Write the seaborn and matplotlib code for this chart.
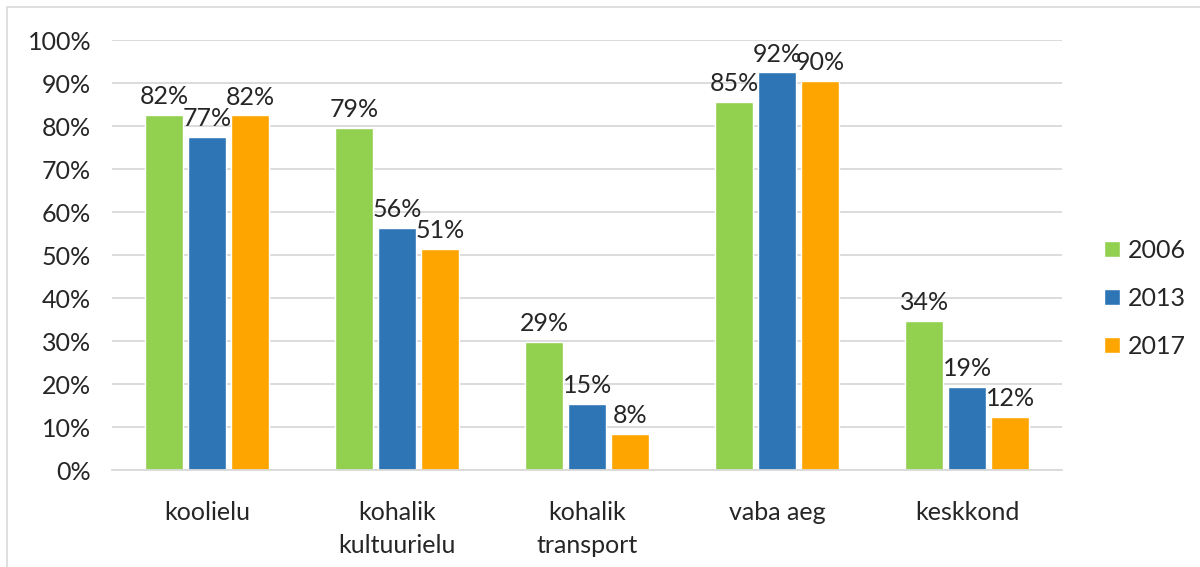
import matplotlib
matplotlib.use("Agg")
import matplotlib.pyplot as plt
import seaborn as sns
import pandas as pd
from matplotlib.patches import Rectangle

# Data
categories = ["koolielu", "kohalik\nkultuurielu", "kohalik\ntransport", "vaba aeg", "keskkond"]
years = ["2006", "2013", "2017"]
values_2006 = [82.7, 79.7, 29.7, 85.7, 34.7]
values_2013 = [77.4, 56.3, 15.4, 92.5, 19.4]
values_2017 = [82.5, 51.4, 8.4, 90.5, 12.4]
colors = ["#92D050", "#2E75B6", "#FFA500"]

df = pd.DataFrame({
    "category": categories * 3,
    "year": [y for y in years for _ in categories],
    "value": values_2006 + values_2013 + values_2017,
})

sns.set_style("white")
plt.rcParams["font.family"] = ["Lato", "DejaVu Sans"]
FS = 18

fig = plt.figure(figsize=(12, 5.67), dpi=100)
ax = fig.add_axes([0.0933, 0.171, 0.792, 0.758])

sns.barplot(data=df, x="category", y="value", hue="year", hue_order=years,
            palette=colors, width=0.68, gap=0.12, ax=ax, saturation=1)

for cont in ax.containers:
    ax.bar_label(cont, labels=[f"{int(b.get_height())}%" for b in cont],
                 fontsize=FS, padding=5)

ax.set_ylim(0, 100)
ax.set_yticks(range(0, 101, 10))
ax.set_yticklabels([f"{t}%" for t in range(0, 101, 10)], fontsize=FS)
ax.tick_params(axis="x", labelsize=FS, length=0, pad=22)
ax.tick_params(axis="y", length=0, pad=15)
for lab in ax.get_xticklabels():
    lab.set_linespacing(1.55)
ax.set_xlabel("")
ax.set_ylabel("")
ax.yaxis.grid(True, color="#D9D9D9", linewidth=1.3)
ax.set_axisbelow(True)
for s in ["top", "left", "right"]:
    ax.spines[s].set_visible(False)
ax.spines["bottom"].set_color("#D9D9D9")
ax.spines["bottom"].set_linewidth(1.3)

ax.legend(loc="center left", bbox_to_anchor=(1.02, 0.4), frameon=False,
          fontsize=FS, handlelength=0.65, handleheight=0.65,
          labelspacing=1.0, handletextpad=0.3)

fig.patches.append(Rectangle((0.006, -0.01), 1.0, 0.998, transform=fig.transFigure,
                             fill=False, edgecolor="#D9D9D9", linewidth=1.2))

fig.savefig("out.png", dpi=100)
